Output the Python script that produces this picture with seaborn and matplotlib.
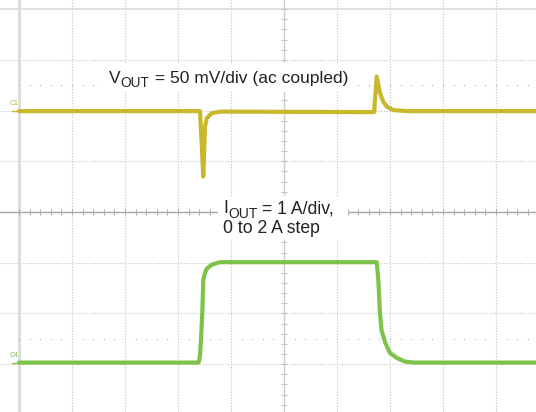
import numpy as np
import pandas as pd
import matplotlib
matplotlib.use("Agg")
import matplotlib.pyplot as plt
from matplotlib.patches import Rectangle
import seaborn as sns

sns.set_style("white")
plt.rcParams['font.family'] = ['Liberation Sans', 'DejaVu Sans']

# scope traces in divisions (x: time div, y: vertical div)
vout_t = [0.00, 3.415, 3.45, 3.477, 3.509, 3.542, 3.636, 3.79,
          6.70, 6.749, 6.81, 6.87, 6.94, 7.06, 7.32, 9.80]
vout_v = [1.99, 1.99, 1.30, 0.70, 1.68, 1.85, 1.95, 1.98,
          1.97, 2.67, 2.35, 2.18, 2.08, 2.01, 1.99, 1.99]

iout_t = [0.00, 3.383, 3.40, 3.415, 3.434, 3.458, 3.477, 3.509, 3.542, 3.636,
          3.79, 6.749, 6.78, 6.81, 6.84, 6.91, 7.00, 7.13, 7.28, 7.47, 9.80]
iout_v = [-2.97, -2.97, -2.93, -2.82, -2.52, -1.99, -1.34, -1.20, -1.12, -1.04,
          -0.99, -0.99, -1.34, -1.99, -2.33, -2.58, -2.78, -2.88, -2.95, -2.97, -2.97]

vout_label = ['V', 'OUT', ' = 50 mV/div (ac coupled)']
iout_label = ['I', 'OUT', ' = 1 A/div,']
iout_label2 = '0 to 2 A step'

yellow = '#C9B82C'
green = '#7DC24A'

df_v = pd.DataFrame({'t': vout_t, 'v': vout_v})
df_i = pd.DataFrame({'t': iout_t, 'v': iout_v})

fig = plt.figure(figsize=(5.36, 4.12), dpi=100)
ax = fig.add_axes([0, 0, 1, 1])
ax.set_xlim(-19 / 53, 517 / 53)
ax.set_ylim((212 - 412) / 50.7, 212 / 50.7)
ax.axis('off')


def px(x, y):
    # screen pixel -> divisions
    return (x - 19) / 53, (212 - y) / 50.7


# graticule
grid_kw = dict(color='#c4c4c4', lw=0.8, ls=(0, (1, 1.5)), zorder=0)
for d in range(1, 10):
    if d != 5:
        ax.axvline(d, **grid_kw)
for v in range(-3, 4):
    if v != 0:
        ax.axhline(v, **grid_kw)
ax.axvline(0, color='#dcdcdc', lw=2, zorder=0)
ax.axhline(4, color='#dcdcdc', lw=1.2, zorder=0)
ax.axhline(0, color='#a8a8a8', lw=1, zorder=0)
ax.axvline(5, color='#cccccc', lw=1, zorder=0)
sub = np.arange(0, 10.01, 0.2)
ax.plot(sub, np.zeros_like(sub), ls='none', marker='|', ms=4.5, mew=0.8, color='#b0b0b0', zorder=0)
subv = np.arange(-4, 4.01, 0.2)
ax.plot(np.full_like(subv, 5), subv, ls='none', marker='_', ms=4, mew=0.8, color='#c4c4c4', zorder=0)
for lvl in (2.5, -2.5):
    ax.plot(sub, np.full_like(sub, lvl), ls='none', marker='s', ms=0.9, mew=0, color='#b8b8b8', zorder=0)

# white panels behind the annotations
for (x0, y0, x1, y1) in [(104, 92, 352, 63), (218, 240, 348, 196)]:
    a0, b0 = px(x0, y0)
    a1, b1 = px(x1, y1)
    ax.add_patch(Rectangle((a0, b0), a1 - a0, b1 - b0, fc='white', ec='none', zorder=1))

# traces
sns.lineplot(data=df_v, x='t', y='v', ax=ax, color=yellow, lw=3.0, sort=False, zorder=3,
             solid_joinstyle='round')
sns.lineplot(data=df_i, x='t', y='v', ax=ax, color=green, lw=3.0, sort=False, zorder=3,
             solid_joinstyle='round')

# channel markers
ax.plot([-0.14, 0], [1.99, 1.99], color=yellow, lw=1, zorder=3)
ax.plot([-0.14, 0], [-2.97, -2.97], color=green, lw=1, zorder=3)
ax.text(-0.17, 2.12, 'C1', color=yellow, fontsize=5, va='baseline')
ax.text(-0.17, -2.86, 'C4', color=green, fontsize=5, va='baseline')

txt_kw = dict(color='#222222', zorder=4)


def label_with_sub(x, y, parts, size):
    main, subs, rest = parts
    t0 = ax.text(x, y, main, fontsize=size, va='baseline', ha='left', **txt_kw)
    t1 = ax.annotate(subs, xy=(1, 0), xycoords=t0, xytext=(0, -3.2), textcoords='offset points',
                     fontsize=size * 0.79, va='bottom', ha='left', **txt_kw)
    ax.annotate(rest, xy=(1, 0), xycoords=(t1, t0), fontsize=size, va='bottom', ha='left', **txt_kw)


label_with_sub(*px(109, 82.7), vout_label, 12.5)
label_with_sub(*px(223, 213), iout_label, 12.7)
ax.text(*px(223, 233), iout_label2, fontsize=12.7, va='baseline', ha='left', **txt_kw)

fig.savefig('out.png', dpi=100)
